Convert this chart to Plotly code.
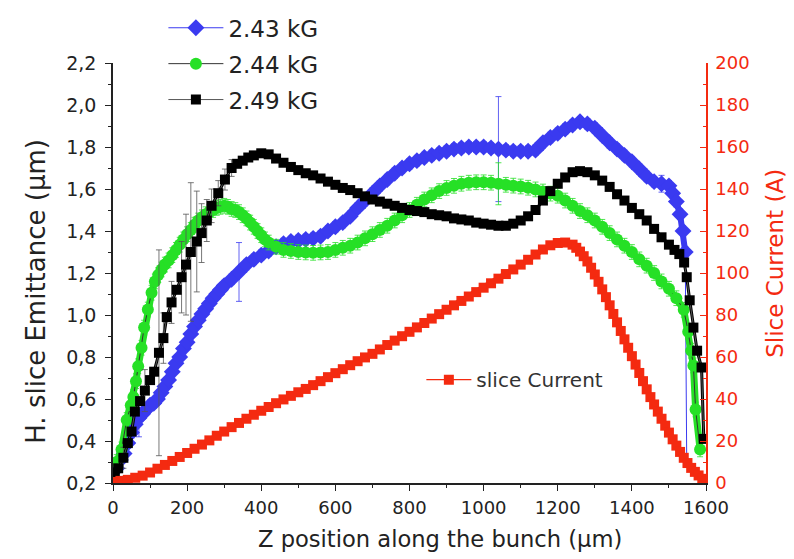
import plotly.graph_objects as go

# ---- 2.43 kG : horizontal slice emittance (um) vs z (um) ----
blue_z = [0, 10, 20, 30, 40, 50, 60, 70, 80, 90, 100, 110, 120, 130, 140, 150, 160, 170, 180, 190,
          200, 210, 220, 230, 240, 250, 260, 270, 280, 290, 300, 320, 340, 360, 380, 400, 420, 440,
          460, 480, 500, 520, 540, 560, 580, 600, 620, 640, 660, 680, 700, 720, 740, 760, 780, 800,
          820, 840, 860, 880, 900, 920, 940, 960, 980, 1000, 1020, 1040, 1060, 1080, 1100, 1120,
          1140, 1160, 1180, 1200, 1220, 1240, 1260, 1280, 1300, 1320, 1340, 1360, 1380, 1400, 1420,
          1440, 1460, 1480, 1500, 1510, 1520, 1530, 1538, 1544, 1548]
blue_e = [0.22, 0.27, 0.31, 0.34, 0.39, 0.44, 0.48, 0.51, 0.53, 0.55, 0.57, 0.58, 0.60, 0.63, 0.66,
          0.69, 0.73, 0.77, 0.80, 0.84, 0.87, 0.91, 0.945, 0.975, 1.005, 1.03, 1.055, 1.08, 1.10,
          1.12, 1.14, 1.17, 1.205, 1.24, 1.265, 1.285, 1.305, 1.325, 1.34, 1.35, 1.355, 1.36, 1.365,
          1.375, 1.40, 1.42, 1.44, 1.47, 1.51, 1.545, 1.58, 1.615, 1.645, 1.675, 1.70, 1.72, 1.735,
          1.75, 1.76, 1.77, 1.78, 1.79, 1.795, 1.80, 1.80, 1.80, 1.795, 1.79, 1.785, 1.78, 1.78,
          1.78, 1.785, 1.82, 1.845, 1.865, 1.885, 1.905, 1.92, 1.91, 1.89, 1.855, 1.82, 1.79, 1.76,
          1.73, 1.695, 1.66, 1.635, 1.625, 1.615, 1.58, 1.54, 1.48, 1.40, 1.30, 0.30]
blue_err_z = [70, 340, 1040, 1480]
blue_err_v = [0.09, 0.14, 0.25, 0.04]

# ---- 2.44 kG ----
green_z = [10, 23, 37, 48, 55, 62, 68, 77, 84, 94, 104, 113, 122, 131, 140, 150, 160, 170, 180, 190,
           200, 210, 220, 230, 240, 250, 260, 270, 280, 290, 300, 310, 320, 330, 340, 350, 360, 370,
           380, 390, 400, 410, 420, 440, 460, 480, 500, 520, 540, 560, 580, 600, 620, 640, 660, 680,
           700, 720, 740, 760, 780, 800, 820, 840, 860, 880, 900, 920, 940, 960, 980, 1000, 1020,
           1040, 1060, 1080, 1100, 1120, 1140, 1160, 1180, 1200, 1220, 1240, 1260, 1280, 1300, 1320,
           1340, 1360, 1380, 1400, 1420, 1440, 1460, 1480, 1500, 1520, 1540, 1552, 1560, 1566, 1572,
           1584]
green_e = [0.30, 0.36, 0.50, 0.57, 0.61, 0.685, 0.756, 0.844, 0.94, 1.026, 1.106, 1.16, 1.19, 1.217,
           1.24, 1.26, 1.285, 1.31, 1.335, 1.36, 1.385, 1.405, 1.43, 1.45, 1.465, 1.48, 1.49, 1.50,
           1.51, 1.515, 1.52, 1.515, 1.505, 1.50, 1.49, 1.475, 1.46, 1.44, 1.42, 1.40, 1.38, 1.36,
           1.345, 1.325, 1.31, 1.305, 1.30, 1.298, 1.296, 1.298, 1.30, 1.31, 1.32, 1.33, 1.345, 1.365,
           1.385, 1.405, 1.425, 1.45, 1.475, 1.50, 1.525, 1.55, 1.57, 1.59, 1.605, 1.615, 1.625, 1.63,
           1.632, 1.632, 1.63, 1.625, 1.62, 1.616, 1.612, 1.606, 1.598, 1.588, 1.578, 1.568, 1.545,
           1.52, 1.495, 1.475, 1.45, 1.42, 1.39, 1.36, 1.33, 1.30, 1.265, 1.235, 1.20, 1.16, 1.125,
           1.08, 1.025, 0.92, 0.83, 0.76, 0.55, 0.36]
green_err_z = [1040]
green_err_v = [0.10]

# ---- 2.49 kG ----
black_z = [5, 14, 28, 40, 50, 59, 73, 86, 100, 111, 124, 136, 145, 158, 172, 185, 197, 210, 226, 239,
           253, 266, 284, 302, 320, 335, 350, 365, 380, 400, 420, 440, 460, 480, 500, 520, 540, 560,
           580, 600, 620, 640, 660, 680, 700, 720, 740, 760, 780, 800, 820, 840, 860, 880, 900, 920,
           940, 960, 980, 1000, 1020, 1040, 1060, 1080, 1100, 1120, 1140, 1160, 1180, 1200, 1220,
           1240, 1260, 1280, 1300, 1320, 1340, 1360, 1380, 1400, 1420, 1440, 1460, 1480, 1500, 1515,
           1528, 1541, 1548, 1556, 1566, 1576, 1588, 1594]
black_e = [0.25, 0.27, 0.32, 0.39, 0.445, 0.54, 0.59, 0.64, 0.69, 0.73, 0.82, 0.89, 0.99, 1.06, 1.12,
           1.18, 1.24, 1.30, 1.35, 1.39, 1.45, 1.52, 1.58, 1.645, 1.70, 1.72, 1.735, 1.75, 1.76, 1.77,
           1.765, 1.745, 1.725, 1.705, 1.69, 1.675, 1.665, 1.65, 1.635, 1.62, 1.605, 1.595, 1.58,
           1.565, 1.55, 1.54, 1.53, 1.52, 1.51, 1.50, 1.495, 1.49, 1.48, 1.475, 1.47, 1.46, 1.455,
           1.45, 1.44, 1.435, 1.43, 1.425, 1.425, 1.435, 1.45, 1.47, 1.50, 1.545, 1.59, 1.625, 1.655,
           1.68, 1.685, 1.68, 1.665, 1.64, 1.61, 1.575, 1.545, 1.51, 1.48, 1.45, 1.41, 1.37, 1.335,
           1.31, 1.29, 1.25, 1.18, 1.07, 0.94, 0.83, 0.75, 0.41]
black_err_z = [28, 86, 124, 136, 158, 185, 197, 210, 226, 239, 253, 266, 284, 302, 320]
black_err_v = [0.05, 0.10, 0.49, 0.12, 0.10, 0.17, 0.24, 0.33, 0.24, 0.14, 0.10, 0.08, 0.06, 0.05, 0.04]

# ---- slice current (A) ----
cur_z = [0, 20, 40, 60, 80, 100, 120, 140, 160, 180, 200, 220, 240, 260, 280, 300, 320, 340, 360, 380,
         400, 420, 440, 460, 480, 500, 520, 540, 560, 580, 600, 620, 640, 660, 680, 700, 720, 740,
         760, 780, 800, 820, 840, 860, 880, 900, 920, 940, 960, 980, 1000, 1020, 1040, 1060, 1080,
         1100, 1120, 1140, 1160, 1180, 1200, 1220, 1240, 1250, 1260, 1270, 1280, 1290, 1300, 1310,
         1320, 1330, 1340, 1350, 1360, 1370, 1380, 1390, 1400, 1410, 1420, 1430, 1440, 1450, 1460,
         1470, 1480, 1490, 1500, 1510, 1520, 1530, 1540, 1550, 1560, 1570, 1580, 1590, 1600]
cur_i = [0.5, 1.0, 1.5, 2.5, 3.5, 5.0, 6.8, 8.6, 10.5, 12.4, 14.3, 16.3, 18.3, 20.3, 22.5, 24.5, 26.6,
         28.6, 30.6, 32.5, 34.4, 36.2, 38.0, 39.8, 41.5, 43.2, 44.8, 46.6, 48.5, 50.4, 52.3, 54.2,
         56.1, 58.0, 59.8, 61.5, 63.6, 65.7, 67.8, 69.9, 72.0, 74.1, 76.2, 78.3, 80.4, 82.5, 84.6,
         86.7, 88.8, 90.9, 93.0, 95.1, 97.3, 99.5, 101.7, 104.0, 106.3, 108.8, 111.2, 113.2, 114.3,
         114.5, 113.5, 112.0, 110.2, 108.0, 105.5, 102.5, 99.3, 95.8, 92.2, 88.5, 84.6, 80.5, 76.5,
         72.4, 68.4, 64.4, 60.4, 56.4, 52.4, 48.5, 44.6, 40.9, 37.4, 34.0, 30.6, 27.3, 24.0, 20.8,
         17.8, 14.8, 12.0, 9.5, 7.2, 5.3, 3.6, 2.0, 0.8]

BLUE = "#3a3af0"
GREEN = "#26e026"
BLACK = "#000000"
RED = "#f42a10"
FONT = "DejaVu Sans, Arial, sans-serif"


def error_list(zs, ez, ev, base):
    lookup = dict(zip(ez, ev))
    return [lookup.get(z, base) for z in zs]


def band(x, y, color, width, yaxis="y"):
    """Thick underlay so the densely sampled markers read as a continuous band."""
    return go.Scatter(x=x, y=y, yaxis=yaxis, mode="lines", showlegend=False,
                      hoverinfo="skip", line=dict(color=color, width=width))


fig = go.Figure()

# slice current
fig.add_trace(band(cur_z, cur_i, RED, 5, yaxis="y2"))
fig.add_trace(go.Scatter(
    x=cur_z, y=cur_i, yaxis="y2", name="slice Current", legend="legend2",
    mode="lines+markers", line=dict(color=RED, width=1.2),
    marker=dict(symbol="square", size=10, color=RED),
))

# 2.43 kG (thin drop line at the tail)
fig.add_trace(go.Scatter(
    x=blue_z[-2:], y=blue_e[-2:], mode="lines", showlegend=False, hoverinfo="skip",
    line=dict(color=BLUE, width=1),
))
fig.add_trace(band(blue_z[:-1], blue_e[:-1], BLUE, 6))
fig.add_trace(go.Scatter(
    x=blue_z[:-1], y=blue_e[:-1], name="2.43 kG", legendgroup="a",
    mode="lines+markers", line=dict(color=BLUE, width=1),
    marker=dict(symbol="diamond", size=13, color=BLUE),
    error_y=dict(type="data", array=error_list(blue_z[:-1], blue_err_z, blue_err_v, 0.025),
                 color=BLUE, thickness=0.8, width=3),
))

# 2.44 kG
fig.add_trace(band(green_z, green_e, GREEN, 7))
fig.add_trace(go.Scatter(
    x=green_z, y=green_e, name="2.44 kG", legendgroup="b",
    mode="lines+markers", line=dict(color="#333333", width=1),
    marker=dict(symbol="circle", size=12, color=GREEN),
    error_y=dict(type="data", array=error_list(green_z, green_err_z, green_err_v, 0.035),
                 color=GREEN, thickness=0.8, width=3),
))

# 2.49 kG
fig.add_trace(band(black_z, black_e, BLACK, 3))
fig.add_trace(go.Scatter(
    x=black_z, y=black_e, name="2.49 kG", legendgroup="c",
    mode="lines+markers", line=dict(color="#555555", width=1),
    marker=dict(symbol="square", size=10, color=BLACK),
    error_y=dict(type="data", array=error_list(black_z, black_err_z, black_err_v, 0.0),
                 color="#555555", thickness=0.8, width=3),
))

# plot area spans x 113..706 px, y 63..483.5 px
PX_L, PX_R, PX_T, PX_B = 113, 706, 63, 483.5


def px(xp):
    return (xp - PX_L) / (PX_R - PX_L)


def py(yp):
    return (PX_B - yp) / (PX_B - PX_T)


fig.update_layout(
    width=794, height=559,
    margin=dict(l=113, r=88, t=63, b=75.5, autoexpand=False),
    paper_bgcolor="white", plot_bgcolor="white",
    separators=",.",
    font=dict(family=FONT, color="#222222"),
    xaxis=dict(
        range=[0, 1600], tickvals=[0, 200, 400, 600, 800, 1000, 1200, 1400, 1600],
        ticks="outside", ticklen=6, tickwidth=1.2, tickcolor="#222222",
        minor=dict(dtick=100, ticks="outside", ticklen=3, tickcolor="#222222"),
        showline=True, linecolor="#222222", linewidth=1.5, showgrid=False, zeroline=False,
        tickfont=dict(size=18), ticklabelstandoff=2,
    ),
    yaxis=dict(
        range=[0.2, 2.2], tickvals=[0.2, 0.4, 0.6, 0.8, 1.0, 1.2, 1.4, 1.6, 1.8, 2.0, 2.2],
        tickformat=".1f",
        ticks="outside", ticklen=6, tickwidth=1.2, tickcolor="#222222",
        minor=dict(dtick=0.1, ticks="outside", ticklen=3, tickcolor="#222222"),
        showline=True, linecolor="#222222", linewidth=1.5, showgrid=False, zeroline=False,
        tickfont=dict(size=19), ticklabelstandoff=5,
    ),
    yaxis2=dict(
        overlaying="y", side="right", range=[0, 200], dtick=20,
        ticks="inside", ticklen=6, tickwidth=1.2, tickcolor=RED,
        minor=dict(dtick=10, ticks="inside", ticklen=3, tickcolor=RED),
        showline=True, linecolor=RED, linewidth=1.5, showgrid=False, zeroline=False,
        tickfont=dict(size=18, color=RED), ticklabelstandoff=4,
    ),
    legend=dict(
        x=0.085, y=1.135, xanchor="left", yanchor="top",
        bgcolor="rgba(0,0,0,0)", font=dict(size=23, color="#222222"),
        itemwidth=55, tracegroupgap=3,
    ),
    legend2=dict(
        x=0.52, y=0.246, xanchor="left", yanchor="middle",
        bgcolor="rgba(0,0,0,0)", font=dict(size=20, color="#333333"),
        itemwidth=45,
    ),
    annotations=[
        dict(text="H. slice Emittance (μm)", xref="paper", yref="paper",
             x=px(36), y=py(292), xanchor="center", yanchor="middle",
             textangle=-90, showarrow=False, font=dict(size=26, color="#222222")),
        dict(text="Z position along the bunch (μm)", xref="paper", yref="paper",
             x=px(440), y=py(540), xanchor="center", yanchor="middle",
             showarrow=False, font=dict(size=22.6, color="#222222")),
        dict(text="Slice Current (A)", xref="paper", yref="paper",
             x=px(775), y=py(264), xanchor="center", yanchor="middle",
             textangle=-90, showarrow=False, font=dict(size=23, color=RED)),
    ],
)

fig.write_html("out.html")
